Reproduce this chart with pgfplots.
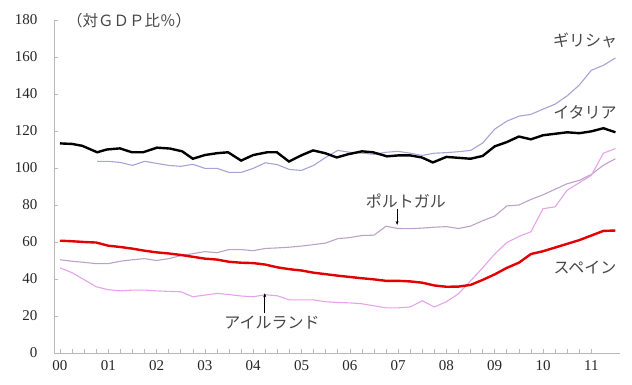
\documentclass[border=0pt]{standalone}
\usepackage{pgfplots}
\pgfplotsset{compat=1.18}
\usepackage{fontspec}
\setmainfont{Liberation Serif}
\newfontfamily\jp{Noto Sans CJK JP}
\usetikzlibrary{arrows.meta}
\definecolor{greece}{HTML}{A4A4D6}
\definecolor{portugal}{HTML}{BCA2C8}
\definecolor{ireland}{HTML}{E6A2EA}
\definecolor{spain}{HTML}{E30000}
\definecolor{lbl}{HTML}{474747}
\begin{document}
\begin{tikzpicture}
\useasboundingbox (0,0) rectangle (632pt,385pt);
\begin{axis}[
  at={(54pt,32pt)}, anchor=south west,
  scale only axis, width=566pt, height=333pt,
  xmin=-0.124, xmax=11.594, ymin=0, ymax=180,
  axis x line=bottom, axis y line=left,
  axis line style={-, draw=gray!55, line width=0.8pt},
  xtick={0,...,11},
  xticklabels={00,01,02,03,04,05,06,07,08,09,10,11},
  minor x tick num=3,
  ytick={0,20,...,180},
  tick align=inside,
  major tick length=4pt, minor tick length=4pt,
  tick style={draw=gray!55, line width=0.6pt},
  /pgf/number format/assume math mode=true,
  ticklabel style={font=\fontsize{15}{17}\selectfont, text=black!85},
  yticklabel style={xshift=-13pt},
  xticklabel style={yshift=-4pt},
  clip=false,
]
% Greece
\addplot[greece, line width=1.1pt] coordinates {
(0.77,103.6)(1.0,103.6)(1.25,103)(1.5,101.4)(1.75,103.6)(2.0,102.5)(2.25,101.4)(2.5,100.9)
(2.75,102)(3.0,99.8)(3.25,99.8)(3.5,97.6)(3.75,97.6)(4.0,99.8)(4.25,102.8)(4.5,101.8)
(4.75,99.2)(5.0,98.7)(5.25,101.4)(5.5,105.7)(5.75,109.5)(6.0,108.5)(6.25,108)(6.5,107.4)
(6.75,108.5)(7.0,109)(7.25,108)(7.5,106.8)(7.75,108)(8.0,108.3)(8.25,108.8)(8.5,109.5)
(8.75,113.5)(9.0,121)(9.25,125.3)(9.5,128)(9.75,129)(10.0,131.8)(10.25,134.5)(10.5,139)
(10.75,144.8)(11.0,152.8)(11.25,155.5)(11.5,159.5)};
% Portugal
\addplot[portugal, line width=1.1pt] coordinates {
(0.0,50.4)(0.25,49.6)(0.5,49)(0.75,48.3)(1.0,48.3)(1.25,49.6)(1.5,50.4)(1.75,51)(2.0,50)
(2.25,51)(2.5,52.6)(2.75,53.7)(3.0,54.8)(3.25,54.2)(3.5,55.9)(3.75,55.9)(4.0,55.3)
(4.25,56.5)(4.5,56.8)(4.75,57.2)(5.0,57.8)(5.25,58.6)(5.5,59.4)(5.75,61.8)(6.0,62.4)
(6.25,63.5)(6.5,63.7)(6.75,68.5)(7.0,67.3)(7.25,67.2)(7.5,67.5)(7.75,68)(8.0,68.3)
(8.25,67.3)(8.5,68.6)(8.75,71.5)(9.0,74)(9.25,79.5)(9.5,80)(9.75,83)(10.0,85.5)
(10.25,88.5)(10.5,91.5)(10.75,93.3)(11.0,96.5)(11.25,101.5)(11.5,105)};
% Ireland
\addplot[ireland, line width=1.1pt] coordinates {
(0.0,46)(0.25,43.4)(0.5,39.6)(0.75,35.8)(1.0,34.2)(1.25,33.6)(1.5,34)(1.75,34)(2.0,33.6)
(2.25,33.3)(2.5,33.1)(2.75,30.4)(3.0,31.3)(3.25,32.2)(3.5,31.6)(3.75,30.8)(4.0,30.4)
(4.25,31.5)(4.5,30.9)(4.75,28.7)(5.0,28.7)(5.25,28.7)(5.5,27.7)(5.75,27.3)(6.0,27.1)
(6.25,26.6)(6.5,25.5)(6.75,24.4)(7.0,24.4)(7.25,24.9)(7.5,28.2)(7.75,24.9)(8.0,27.7)
(8.25,32)(8.5,39)(8.75,46)(9.0,53.5)(9.25,59.7)(9.5,63)(9.75,65.5)(10.0,78)(10.25,79)
(10.5,88)(10.75,92)(11.0,96)(11.25,108)(11.5,110.5)};
% Italy
\addplot[black, line width=2.4pt] coordinates {
(0.0,113.3)(0.25,113)(0.46,112)(0.77,108.5)(0.97,110)(1.24,110.6)(1.49,108.5)(1.72,108.5)
(2.01,111)(2.28,110.5)(2.53,109)(2.75,105)(3.0,107)(3.25,108)(3.48,108.5)(3.75,104)
(4.0,107)(4.29,108.5)(4.49,108.5)(4.74,103.5)(5.01,107)(5.24,109.5)(5.49,108)(5.73,105.7)
(5.96,107.4)(6.25,109)(6.48,108.5)(6.77,106.3)(7.0,106.8)(7.25,106.8)(7.49,105.7)
(7.72,103)(8.0,106)(8.25,105.5)(8.5,105)(8.75,106.5)(9.0,111.7)(9.25,114)(9.5,117)
(9.75,115.5)(10.0,117.7)(10.25,118.5)(10.5,119.3)(10.75,118.8)(11.0,119.8)(11.25,121.5)
(11.5,119.3)};
% Spain
\addplot[spain, line width=2.4pt] coordinates {
(0.0,60.7)(0.25,60.4)(0.5,60)(0.75,59.7)(1.0,58)(1.25,57.3)(1.5,56.4)(1.75,55.3)(2.0,54.4)
(2.25,53.8)(2.5,53)(2.75,52)(3.0,51)(3.25,50.5)(3.5,49.3)(3.75,48.8)(4.0,48.6)(4.25,47.8)
(4.5,46.3)(4.75,45.3)(5.0,44.6)(5.25,43.4)(5.5,42.6)(5.75,41.8)(6.0,41.1)(6.25,40.4)
(6.5,39.8)(6.75,39)(7.0,39)(7.25,38.7)(7.5,38)(7.75,36.5)(8.0,35.8)(8.25,35.9)(8.5,36.8)
(8.75,39.5)(9.0,42.5)(9.25,46)(9.5,48.8)(9.75,53.5)(10.0,55)(10.25,57)(10.5,59)
(10.75,61)(11.0,63.5)(11.25,66)(11.5,66.2)};
% labels
\node[text=lbl, font=\jp\fontsize{15.5}{17}\selectfont] at (axis cs:1.43,179.5) {（対ＧＤＰ比％）};
\node[text=lbl, font=\jp\fontsize{16}{18}\selectfont] at (axis cs:10.87,168.7) {ギリシャ};
\node[text=lbl, font=\jp\fontsize{16}{18}\selectfont] at (axis cs:10.87,130.2) {イタリア};
\node[text=lbl, font=\jp\fontsize{16}{18}\selectfont] at (axis cs:7.16,81.9) {ポルトガル};
\node[text=lbl, font=\jp\fontsize{16}{18}\selectfont] at (axis cs:4.39,16.3) {アイルランド};
\node[text=lbl, font=\jp\fontsize{16}{18}\selectfont] at (axis cs:10.87,46.1) {スペイン};
\draw[black, line width=0.6pt, -{Stealth[length=4pt,width=3pt]}] (axis cs:6.98,78.1) -- (axis cs:6.98,69.2);
\draw[black, line width=0.6pt, -{Stealth[length=4pt,width=3pt]}] (axis cs:4.24,21.7) -- (axis cs:4.24,32.3);
\end{axis}
\end{tikzpicture}
\end{document}
